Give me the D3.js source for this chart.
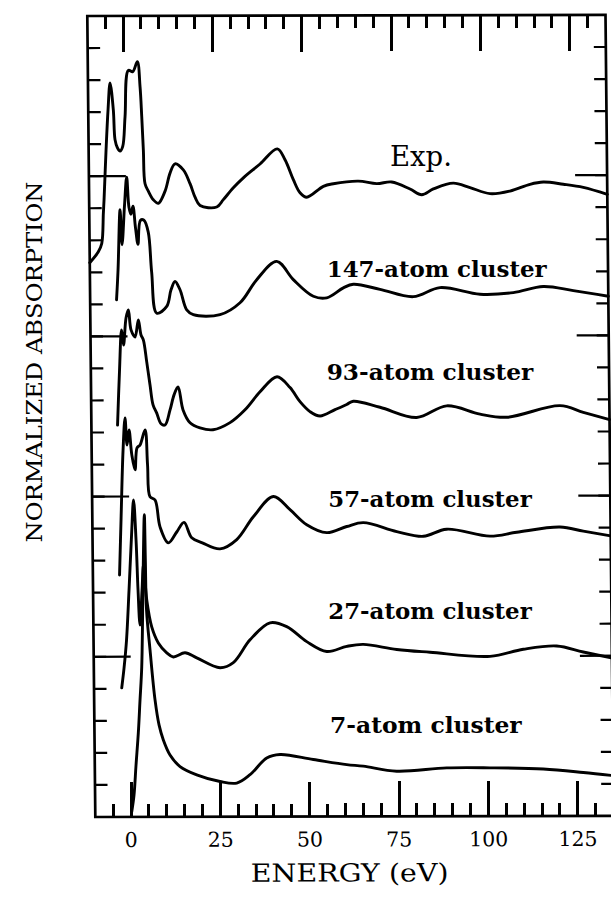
<!DOCTYPE html>
<html><head><meta charset="utf-8">
<script src="https://cdn.jsdelivr.net/npm/d3@7"></script>
<style>body{margin:0;background:#fff}svg{display:block}</style>
</head><body><svg id="c" width="611" height="904"></svg>
<script>
// ---- data (energy in eV, normalized absorption in offset units) ----
const energyTicks = [0, 25, 50, 75, 100, 125];
const xLabel = "ENERGY (eV)";
const yLabel = "NORMALIZED ABSORPTION";
const seriesNames = ["Exp.", "147-atom cluster", "93-atom cluster", "57-atom cluster", "27-atom cluster", "7-atom cluster"];

const expData = [[-10,17.3],[-7.57,17.64],[-6.59,17.9],[-6.06,18.84],[-5.83,19.26],[-5.13,20.81],[-4.46,22.07],[-3.82,22.91],[-2.98,22.07],[-2.59,21.14],[-1.96,20.89],[-1.22,20.78],[-0.45,20.93],[0.28,21.86],[1.33,23.3],[2.56,23.26],[3.87,23.57],[4.56,22.79],[4.95,21.86],[5.31,20.81],[5.69,19.76],[6.59,19.53],[7.97,19.26],[9.36,19.15],[11.27,19.53],[12.71,20.09],[14.13,20.38],[16.44,20.19],[18.28,19.76],[19.64,19.34],[21.02,19.08],[25.68,19.03],[27.55,19.26],[30.38,19.63],[33.21,19.94],[37.92,20.37],[42.8,20.84],[44.92,20.5],[47.19,19.88],[49.03,19.47],[50.89,19.33],[55.57,19.67],[58.37,19.75],[65.37,19.83],[70.51,19.75],[74.71,19.8],[79.82,19.58],[83.07,19.4],[86.34,19.58],[91.95,19.76],[96.61,19.62],[102.19,19.43],[107.79,19.51],[113.4,19.72],[117.13,19.79],[122.72,19.72],[128.3,19.62],[135,19.4]];

const c147Data = [[-2.61,16.14],[-2.11,17.07],[-1.38,18.95],[-0.92,17.86],[-0.11,19.1],[0.56,19.97],[1.12,19.03],[1.66,18.81],[2.24,19.06],[2.88,18.4],[3.54,17.87],[4.3,18.62],[5.28,18.62],[6.45,18.25],[7.29,17.0],[8.6,15.72],[11.41,15.93],[12.66,16.45],[13.81,16.71],[15.18,16.45],[17.0,15.82],[18.83,15.67],[26.3,15.67],[31.93,16.04],[36.67,16.76],[42.32,17.33],[46.91,16.76],[52.46,16.24],[56.21,16.19],[60.88,16.5],[63.69,16.61],[71.14,16.45],[80.44,16.22],[87.94,16.5],[99.11,16.29],[108.43,16.34],[116.84,16.53],[125.22,16.4],[135,16.22]];

const c93Data = [[-2.68,12.23],[-1.97,13.95],[-1.3,15.2],[-0.78,14.73],[-0.01,15.57],[0.66,15.82],[1.36,15.2],[2.46,14.98],[3.43,15.51],[4.14,15.04],[4.77,14.89],[5.66,14.2],[6.52,13.48],[7.31,12.86],[8.32,12.6],[9.49,12.27],[10.61,12.23],[12.05,12.7],[13.21,13.17],[14.35,13.42],[15.69,12.7],[17.61,12.3],[20.39,12.14],[24.02,12.08],[28.8,12.3],[33.03,12.7],[37.28,13.26],[42.08,13.73],[45.69,13.39],[48.44,12.95],[51.19,12.64],[54.0,12.5],[58.22,12.7],[61.5,12.86],[63.36,12.96],[70.81,12.77],[81.05,12.45],[89.48,12.81],[98.77,12.55],[106.23,12.45],[121.18,12.81],[127.68,12.6],[135,12.37]];

const c57Data = [[-2.54,7.55],[-1.97,9.27],[-1.21,11.45],[-0.57,12.45],[-0.08,11.61],[0.52,12.08],[1.23,11.3],[2.09,10.83],[2.71,11.52],[3.56,11.61],[5.0,12.08],[5.6,10.99],[6.21,9.99],[7.6,9.89],[8.92,9.05],[11.2,8.55],[13.58,8.89],[15.65,9.19],[17.76,8.71],[20.71,8.55],[25.65,8.36],[30.35,8.65],[35.06,9.36],[40.71,9.99],[45.34,9.58],[49.98,9.11],[55.55,8.86],[61.16,9.05],[65.82,9.17],[75.14,8.89],[82.57,8.74],[89.13,8.96],[101.23,8.74],[108.71,8.86],[120.84,9.02],[127.35,8.89],[135,8.74]];

const c27Data = [[-2.24,4.03],[-1.54,4.65],[-0.77,5.52],[0.07,7.08],[0.93,8.8],[1.58,9.89],[2.17,8.65],[2.59,7.08],[3.05,5.99],[3.71,7.08],[4.2,7.86],[5.0,6.77],[6.32,5.93],[8.12,5.43],[10.45,5.12],[12.28,4.99],[15.57,5.12],[18.83,4.96],[25.32,4.65],[29.05,4.81],[33.79,5.52],[39.43,6.05],[44.09,5.93],[49.65,5.46],[55.22,5.15],[60.83,5.31],[65.45,5.37],[74.81,5.21],[84.12,5.12],[100.89,4.99],[110.23,5.21],[119.58,5.31],[127.0,5.12],[135,4.93]];

const c7Data = [[0.21,0.16],[0.9,0.69],[1.54,1.62],[2.27,2.62],[2.84,3.65],[3.41,4.68],[4.02,7.4],[4.56,9.43],[4.72,8.02],[4.91,6.46],[5.78,5.21],[7.04,3.65],[8.09,2.87],[9.25,2.4],[11.08,1.93],[13.85,1.57],[18.5,1.31],[25.0,1.1],[29.67,1.05],[33.41,1.31],[38.13,1.83],[41.86,1.94],[51.16,1.78],[60.49,1.62],[65.13,1.57],[74.46,1.41],[88.47,1.51],[100.58,1.51],[115.49,1.47],[126.67,1.36],[135,1.26]];

const allSeries = [expData, c147Data, c93Data, c57Data, c27Data, c7Data];

// ---- drawing ----
const svg = d3.select("#c");
const x = d3.scaleLinear().domain([-10, 135]).range([87.3, 605.5]);
const y = d3.scaleLinear().domain([0, 25]).range([817, 16]);
const [e0, e1] = x.domain();
const [a0, a1] = y.domain();

// the scanned figure is slightly sheared (same matrix for group and hand-placed ticks)
const M = {a: 1, b: -0.002, c: 0.01, d: 1, e: -0.16, f: 0.17};
const sx = (px, py) => M.a * px + M.c * py + M.e;
const sy = (px, py) => M.b * px + M.d * py + M.f;
const g = svg.append("g").attr("transform", `matrix(${M.a},${M.b},${M.c},${M.d},${M.e},${M.f})`);

// frame
g.append("rect").attr("x", x(e0)).attr("y", y(a1))
  .attr("width", x(e1) - x(e0)).attr("height", y(a0) - y(a1))
  .attr("fill", "none").attr("stroke", "#000").attr("stroke-width", 2.7);

// horizontal ticks on left/right edges (inside group)
const minorE = d3.range(-5, 135, 5);
const minorA = d3.range(1, 25, 1);
const majorA = [5, 10, 15, 20];
const hRects = [];
minorA.forEach(v => { hRects.push({x0: x(e0), cy: y(v), w: 12.5}); hRects.push({x0: x(e1) - 12, cy: y(v), w: 12}); });
majorA.forEach(v => { hRects.push({x0: x(e0), cy: y(v), w: 37}); hRects.push({x0: x(e1) - 32, cy: y(v), w: 32}); });
g.append("g").selectAll("rect").data(hRects).join("rect")
  .attr("x", d => d.x0).attr("y", d => d.cy - 1.1).attr("width", d => d.w).attr("height", 2.2)
  .attr("fill", "#000");

// vertical ticks on top/bottom edges: axis-aligned rects in root, positioned with the shear
const vTicks = [];
minorE.forEach(v => { vTicks.push({e: v, a: a0, len: 13, dir: -1}); vTicks.push({e: v, a: a1, len: 13, dir: 1}); });
energyTicks.forEach(v => { vTicks.push({e: v, a: a0, len: 35, dir: -1}); vTicks.push({e: v, a: a1, len: 36, dir: 1}); });
svg.append("g").attr("shape-rendering", "crispEdges").selectAll("rect").data(vTicks).join("rect")
  .attr("x", d => sx(x(d.e), y(d.a)) - 1.5)
  .attr("y", d => d.dir < 0 ? sy(x(d.e), y(d.a)) - d.len : sy(x(d.e), y(d.a)))
  .attr("width", 3).attr("height", d => d.len)
  .attr("fill", "#000");

// curves
const line = d3.line().x(d => x(Math.min(Math.max(d[0], e0), e1))).y(d => y(d[1])).curve(d3.curveCatmullRom.alpha(0.5));
g.append("g").selectAll("path").data(allSeries).join("path")
  .attr("d", line).attr("fill", "none").attr("stroke", "#000")
  .attr("stroke-width", 2.9).attr("stroke-linejoin", "round").attr("stroke-linecap", "round");

// tick labels
g.append("g").selectAll("text").data(energyTicks).join("text")
  .attr("x", d => x(d)).attr("y", 847)
  .attr("text-anchor", "middle")
  .attr("font-family", "'DejaVu Serif', serif").attr("font-size", 20.5)
  .text(d => d3.format("d")(d));

// x label
g.append("text").attr("x", 341).attr("y", 882)
  .attr("font-family", "'DejaVu Serif', serif").attr("font-size", 25)
  .attr("text-anchor", "middle").attr("textLength", 198).attr("lengthAdjust", "spacingAndGlyphs")
  .text(xLabel);

// y label
svg.append("text").attr("transform", "translate(41.5,362) rotate(-90)")
  .attr("font-family", "'DejaVu Serif', serif").attr("font-size", 23)
  .attr("text-anchor", "middle").attr("textLength", 361).attr("lengthAdjust", "spacingAndGlyphs")
  .text(yLabel);

// series labels
const labelPos = [
  {x: 390, y: 165.7, w: 62, size: 28, weight: "normal"},
  {x: 326.7, y: 277, w: 220, size: 21.5, weight: "bold"},
  {x: 326.7, y: 380, w: 206.6, size: 21.5, weight: "bold"},
  {x: 328.3, y: 507, w: 203.4, size: 21.5, weight: "bold"},
  {x: 328.3, y: 618.5, w: 203.4, size: 21.5, weight: "bold"},
  {x: 330, y: 733, w: 191.7, size: 21.5, weight: "bold"}
];
svg.append("g").selectAll("text").data(seriesNames).join("text")
  .attr("x", (d, i) => labelPos[i].x).attr("y", (d, i) => labelPos[i].y)
  .attr("font-family", "'DejaVu Serif', serif")
  .attr("font-size", (d, i) => labelPos[i].size)
  .attr("font-weight", (d, i) => labelPos[i].weight)
  .attr("textLength", (d, i) => labelPos[i].w).attr("lengthAdjust", "spacingAndGlyphs")
  .text(d => d);
</script>
</body></html>
